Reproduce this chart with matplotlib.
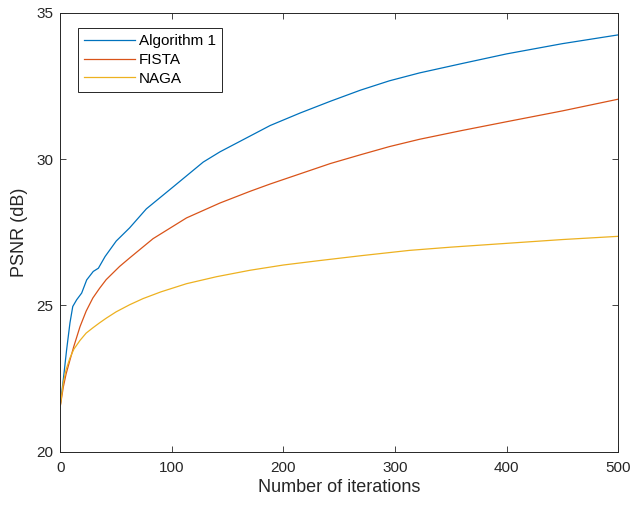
import numpy as np
import matplotlib.pyplot as plt

plt.rcParams.update({
    'font.family': ['Liberation Sans', 'DejaVu Sans'],
    'xtick.direction': 'in',
    'ytick.direction': 'in',
})

BLUE   = '#0072BD'
ORANGE = '#D95319'
YELLOW = '#EDB120'
AXCOL  = '#262626'

# PSNR (dB)
alg1_iter = [0, 2.5, 5.5, 8.5, 11, 14.5, 19, 23.5, 29.4, 34, 40, 50, 62, 77, 101,
             128, 143, 161, 188, 215, 242, 269, 295, 322, 360, 400, 450, 500]
alg1_psnr = [21.65, 22.45, 23.48, 24.4, 24.96, 25.19, 25.42, 25.87, 26.16, 26.27,
             26.67, 27.2, 27.65, 28.3, 29.05, 29.9, 30.25, 30.61, 31.15, 31.58,
             31.98, 32.36, 32.68, 32.95, 33.27, 33.6, 33.95, 34.25]

fista_iter = [0, 2.5, 5, 8.5, 12, 17.5, 23, 29, 35, 41, 53, 62, 83, 113, 143, 170,
              188, 215, 242, 269, 295, 322, 360, 400, 450, 500]
fista_psnr = [21.6, 22.2, 22.65, 23.13, 23.6, 24.27, 24.8, 25.25, 25.58, 25.88,
              26.33, 26.62, 27.28, 27.99, 28.5, 28.9, 29.15, 29.5, 29.85, 30.15,
              30.43, 30.68, 30.98, 31.28, 31.65, 32.05]

naga_iter = [0, 2.5, 5, 8.5, 12, 17.5, 23, 29, 35, 41, 50, 62, 74, 90, 113, 140,
             170, 200, 232, 270, 313, 350, 400, 450, 500]
naga_psnr = [21.6, 22.35, 22.8, 23.2, 23.5, 23.8, 24.05, 24.23, 24.4, 24.56, 24.78,
             25.02, 25.23, 25.46, 25.74, 25.98, 26.2, 26.38, 26.53, 26.7, 26.88,
             26.99, 27.12, 27.25, 27.36]

labels = ['Algorithm 1', 'FISTA', 'NAGA']

fig = plt.figure(figsize=(6.34, 5.11), dpi=100)
ax = fig.add_axes([0.0954, 0.1164, 0.8794, 0.8582])

ax.plot(alg1_iter, alg1_psnr, color=BLUE, lw=0.9, label=labels[0])
ax.plot(fista_iter, fista_psnr, color=ORANGE, lw=0.9, label=labels[1])
ax.plot(naga_iter, naga_psnr, color=YELLOW, lw=0.9, label=labels[2])

ax.set_xlim(0, 500)
ax.set_ylim(20, 35)
ax.set_xticks([0, 100, 200, 300, 400, 500])
ax.set_yticks([20, 25, 30, 35])
ax.tick_params(top=True, right=True, length=4, width=0.6, colors=AXCOL,
               labelsize=11)
ax.tick_params(axis='x', pad=7)
ax.tick_params(axis='y', pad=5)
for s in ax.spines.values():
    s.set_color(AXCOL)
    s.set_linewidth(0.7)

ax.set_xlabel('Number of iterations', fontsize=13, color=AXCOL, labelpad=3)
ax.set_ylabel('PSNR (dB)', fontsize=13, color=AXCOL, labelpad=6)

leg = ax.legend(loc='upper left', bbox_to_anchor=(0.0314, 0.965),
                borderaxespad=0, fontsize=11, handlelength=3.3,
                handletextpad=0.3, labelspacing=0.3, borderpad=0.4,
                fancybox=False, framealpha=1)
leg.get_frame().set_edgecolor(AXCOL)
leg.get_frame().set_linewidth(0.7)

fig.savefig('out.png', dpi=100)
